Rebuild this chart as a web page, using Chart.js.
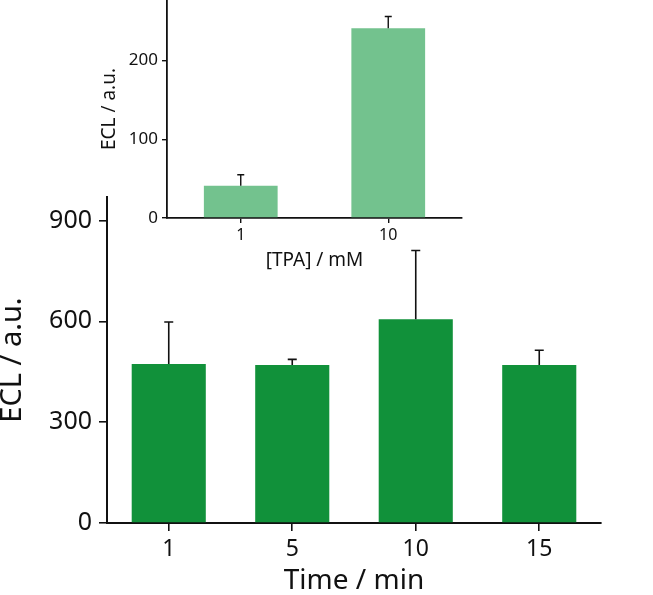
<!DOCTYPE html>
<html>
<head>
<meta charset="utf-8">
<script src="https://cdn.jsdelivr.net/npm/chart.js@4/dist/chart.umd.min.js"></script>
<style>
  html, body { margin: 0; padding: 0; background: #fff; }
  #wrap { position: relative; width: 653px; height: 595px; overflow: hidden; }
  #mainChart { position: absolute; left: 0; top: 0; }
  #insetChart { position: absolute; left: 0; top: -20px; }
</style>
</head>
<body>
<div id="wrap">
  <canvas id="mainChart" width="653" height="595"></canvas>
  <canvas id="insetChart" width="480" height="290"></canvas>
</div>
<script>
// main plot: ECL vs time
const timeLabels = ['1', '5', '10', '15'];
const eclValues = [473, 470, 606, 470];
const eclErrors = [125, 17, 205, 44];
const eclTicks = [0, 300, 600, 900];

// inset: ECL vs TPA concentration
const tpaLabels = ['1', '10'];
const tpaValues = [41, 241];
const tpaErrors = [14, 15];
const tpaTicks = [0, 100, 200];

const FONT = "'Noto Sans', 'DejaVu Sans', sans-serif";

// draws upper error bars on top of each bar
const errorBars = {
  id: 'errorBars',
  afterDatasetsDraw(chart, args, opts) {
    const ctx = chart.ctx;
    const yScale = chart.scales.y;
    chart.data.datasets.forEach((ds, i) => {
      const meta = chart.getDatasetMeta(i);
      meta.data.forEach((bar, j) => {
        const top = yScale.getPixelForValue(ds.data[j] + ds.errors[j]);
        ctx.save();
        ctx.strokeStyle = '#111';
        ctx.lineWidth = opts.width;
        ctx.beginPath();
        ctx.moveTo(bar.x, bar.y);
        ctx.lineTo(bar.x, top);
        ctx.moveTo(bar.x - opts.cap, top);
        ctx.lineTo(bar.x + opts.cap, top);
        ctx.stroke();
        ctx.restore();
      });
    });
  }
};

function fixedTicks(list) {
  return scale => {
    scale.ticks = list.map(v => ({ value: v }));
  };
}

new Chart(document.getElementById('mainChart'), {
  type: 'bar',
  data: {
    labels: timeLabels,
    datasets: [{
      data: eclValues,
      errors: eclErrors,
      backgroundColor: '#11913a',
      barPercentage: 0.6,
      categoryPercentage: 1
    }]
  },
  options: {
    responsive: false,
    animation: false,
    layout: { padding: { left: 0, top: 197, right: 52, bottom: 0 } },
    plugins: {
      legend: { display: false },
      tooltip: { enabled: false },
      errorBars: { width: 1.6, cap: 4.5 }
    },
    scales: {
      x: {
        offset: true,
        afterFit: s => { s.height = 72; },
        grid: { display: true, drawOnChartArea: false, offset: false, tickLength: 8, color: '#111', lineWidth: 1.6 },
        border: { display: true, color: '#111', width: 2 },
        ticks: { autoSkip: false, maxRotation: 0, color: '#111', padding: 5, font: { family: FONT, size: 23 } },
        title: { display: true, text: 'Time / min', color: '#111', padding: { top: 0, bottom: 0 }, font: { family: FONT, size: 28, lineHeight: 1 } }
      },
      y: {
        min: 0,
        max: 970,
        afterFit: s => { s.width = 107; },
        afterBuildTicks: fixedTicks(eclTicks),
        grid: { display: true, drawOnChartArea: false, tickLength: 8, color: '#111', lineWidth: 1.6 },
        border: { display: true, color: '#111', width: 2 },
        ticks: { autoSkip: false, color: '#111', padding: 7, font: { family: FONT, size: 25 } },
        title: { display: true, text: 'ECL / a.u.', color: '#111', padding: { top: -2, bottom: 0 }, font: { family: FONT, size: 29, lineHeight: 1 } }
      }
    }
  },
  plugins: [errorBars]
});

new Chart(document.getElementById('insetChart'), {
  type: 'bar',
  data: {
    labels: tpaLabels,
    datasets: [{
      data: tpaValues,
      errors: tpaErrors,
      backgroundColor: '#73c28e',
      barPercentage: 0.5,
      categoryPercentage: 1
    }]
  },
  options: {
    responsive: false,
    animation: false,
    layout: { padding: { left: 100, top: 20, right: 18, bottom: 0 } },
    plugins: {
      legend: { display: false },
      tooltip: { enabled: false },
      errorBars: { width: 1.4, cap: 3.5 }
    },
    scales: {
      x: {
        offset: true,
        afterFit: s => { s.height = 52; },
        grid: { display: true, drawOnChartArea: false, offset: false, tickLength: 5, color: '#111', lineWidth: 1.4 },
        border: { display: true, color: '#111', width: 1.8 },
        ticks: { autoSkip: false, maxRotation: 0, color: '#111', padding: 3, font: { family: FONT, size: 16 } },
        title: { display: true, text: '[TPA] / mM', color: '#111', padding: { top: 0, bottom: 0 }, font: { family: FONT, size: 19, lineHeight: 1 } }
      },
      y: {
        min: 0,
        max: 277,
        afterFit: s => { s.width = 67; },
        afterBuildTicks: fixedTicks(tpaTicks),
        grid: { display: true, drawOnChartArea: false, tickLength: 5, color: '#111', lineWidth: 1.4 },
        border: { display: true, color: '#111', width: 1.8 },
        ticks: { autoSkip: false, color: '#111', padding: 4, font: { family: FONT, size: 17 } },
        title: { display: true, text: 'ECL / a.u.', color: '#111', padding: { top: 0, bottom: 0 }, font: { family: FONT, size: 19, lineHeight: 1 } }
      }
    }
  },
  plugins: [errorBars]
});
</script>
</body>
</html>
